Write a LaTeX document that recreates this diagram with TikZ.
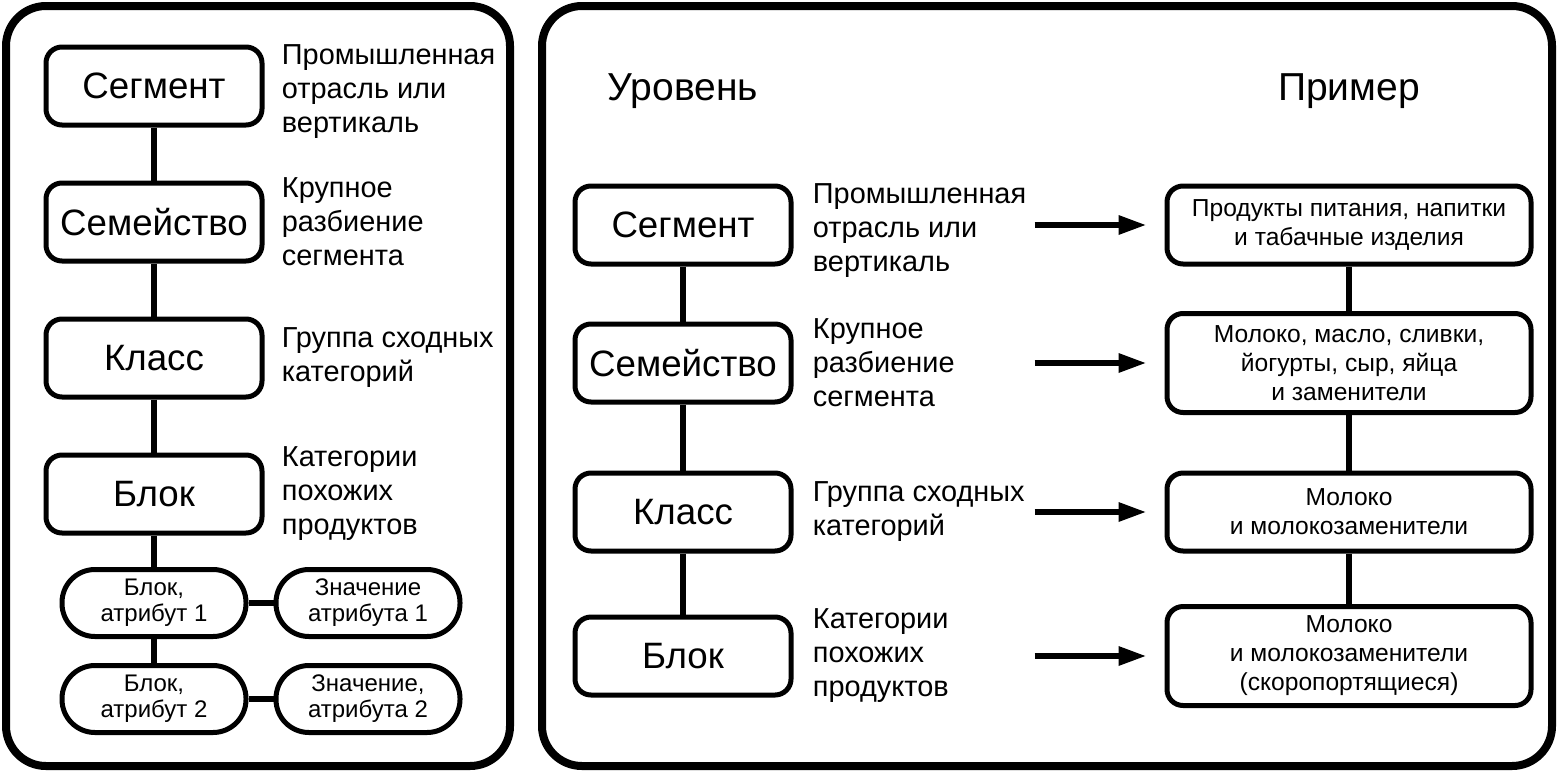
\documentclass[tikz,border=0pt]{standalone}
\usepackage{fontspec}
\setmainfont{Liberation Sans}
\usetikzlibrary{positioning,arrows.meta}

\tikzset{
  level/.style={rectangle, draw, line width=2.5pt, rounded corners=8pt, minimum width=108pt, minimum height=39pt, inner sep=2pt, font=\fontsize{18.35}{22}\selectfont},
  attr/.style={rectangle, draw, line width=2.5pt, rounded corners=16.5pt, minimum width=92pt, minimum height=33.5pt, inner sep=1pt, align=center, font=\fontsize{12}{13}\selectfont},
  note/.style={inner sep=0pt, align=left, font=\fontsize{14.45}{17}\selectfont},
  example/.style={rectangle, draw, line width=2.5pt, rounded corners=8pt, minimum width=182pt, minimum height=39pt, inner sep=4.5pt, align=center, font=\fontsize{12.3}{14.5}\selectfont},
  head/.style={inner sep=0pt, font=\fontsize{19.5}{23}\selectfont},
  link/.style={line width=3pt},
  arr/.style={line width=3pt, -{Triangle[length=14pt,width=9pt]}},
  frame/.style={line width=4pt, rounded corners=20pt}
}

\begin{document}
\begin{tikzpicture}[x=0.5pt, y=-0.5pt]
  \useasboundingbox (0,0) rectangle (1561,776);
  \draw[frame] (6,6) rectangle (510,766);
  \draw[frame] (542,6) rectangle (1552,766);

  % left panel
  \node[level] (lseg) at (154,86) {Сегмент};
  \node[level, below=26.5pt of lseg] (lfam) {Семейство};
  \node[level, below=26.5pt of lfam] (lcls) {Класс};
  \node[level, below=26.5pt of lcls] (lblk) {Блок};
  \node[attr, below=15.75pt of lblk] (lat1) {Блок,\\атрибут 1};
  \node[attr, below=12pt of lat1] (lat2) {Блок,\\атрибут 2};
  \node[attr, right=12.5pt of lat1] (lval1) {Значение\\атрибута 1};
  \node[attr, right=12.5pt of lat2] (lval2) {Значение,\\атрибута 2};

  \node[note, right=8.5pt of lseg, yshift=-3pt] (lnseg) {Промышленная\\отрасль или\\вертикаль};
  \node[note, right=8.5pt of lfam] (lnfam) {Крупное\\разбиение\\сегмента};
  \node[note, right=8.5pt of lcls] (lncls) {Группа сходных\\категорий};
  \node[note, right=8.5pt of lblk] (lnblk) {Категории\\похожих\\продуктов};

  \draw[link] (lseg) -- (lfam);
  \draw[link] (lfam) -- (lcls);
  \draw[link] (lcls) -- (lblk);
  \draw[link] (lblk) -- (lat1);
  \draw[link] (lat1) -- (lat2);
  \draw[link] (lat1) -- (lval1);
  \draw[link] (lat2) -- (lval2);

  % right panel
  \node[level] (rseg) at (683,225) {Сегмент};
  \node[level, below=27.5pt of rseg] (rfam) {Семейство};
  \node[level, below=33pt of rfam] (rcls) {Класс};
  \node[level, below=30.5pt of rcls] (rblk) {Блок};

  \node[head, above=37.5pt of rseg] (hlev) {Уровень};

  \node[note, right=9.5pt of rseg, yshift=-3pt] (rnseg) {Промышленная\\отрасль или\\вертикаль};
  \node[note, right=9.5pt of rfam] (rnfam) {Крупное\\разбиение\\сегмента};
  \node[note, right=9.5pt of rcls] (rncls) {Группа сходных\\категорий};
  \node[note, right=9.5pt of rblk] (rnblk) {Категории\\похожих\\продуктов};

  \node[example, right=185.5pt of rseg] (exseg) {Продукты питания, напитки\\и табачные изделия};
  \node[example, minimum height=49.5pt, right=185.5pt of rfam] (exfam) {Молоко, масло, сливки,\\йогурты, сыр, яйца\\и заменители};
  \node[example, right=185.5pt of rcls] (excls) {Молоко\\и молокозаменители};
  \node[example, minimum height=49.5pt, right=185.5pt of rblk] (exblk) {Молоко\\и молокозаменители\\(скоропортящиеся)};

  \node[head] (hex) at (hlev -| exseg) {Пример};

  \draw[link] (rseg) -- (rfam);
  \draw[link] (rfam) -- (rcls);
  \draw[link] (rcls) -- (rblk);
  \draw[link] (exseg) -- (exfam);
  \draw[link] (exfam) -- (excls);
  \draw[link] (excls) -- (exblk);

  \draw[arr, shorten >=9pt] ([xshift=-65pt]exseg.west) -- (exseg.west);
  \draw[arr, shorten >=9pt] ([xshift=-65pt]exfam.west) -- (exfam.west);
  \draw[arr, shorten >=9pt] ([xshift=-65pt]excls.west) -- (excls.west);
  \draw[arr, shorten >=9pt] ([xshift=-65pt]exblk.west) -- (exblk.west);
\end{tikzpicture}
\end{document}
